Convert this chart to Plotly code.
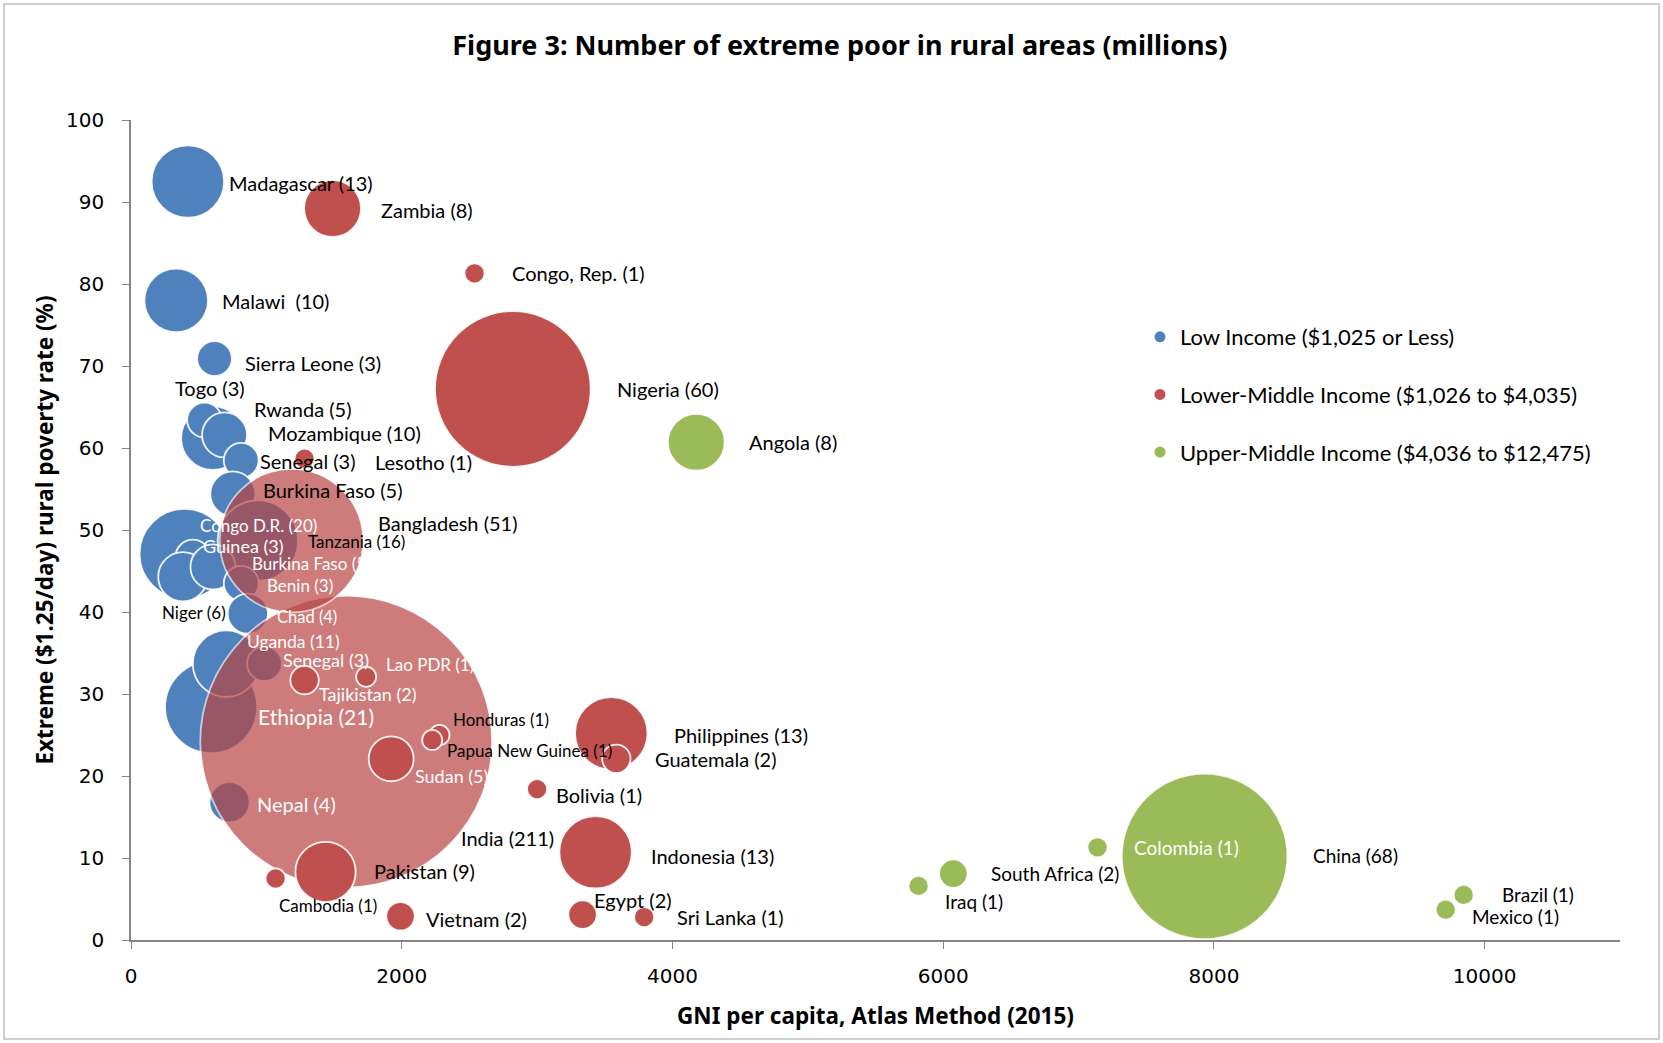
import plotly.graph_objects as go

# ---------------- data ----------------
# Low income
low_names = ["Madagascar", "Malawi ", "Sierra Leone", "Mozambique", "Togo", "Rwanda",
             "Senegal", "Burkina Faso", "Congo D.R.", "Tanzania", "Guinea", "Niger",
             "Burkina Faso", "Benin", "Chad", "Ethiopia", "Uganda", "Senegal", "Nepal"]
low_gni = [420, 334, 617, 605, 543, 691, 814, 752, 395, 937, 457, 383, 605, 814, 863, 592, 703, 986, 728]
low_rate = [92.5, 78.0, 70.9, 61.2, 63.4, 61.6, 58.5, 54.4, 47.1, 48.7, 46.7, 44.3, 45.5, 43.5, 39.8, 28.4, 33.7, 33.7, 16.8]
low_poor = [13, 10, 3, 10, 3, 5, 3, 5, 20, 16, 3, 6, 5, 3, 4, 21, 11, 3, 4]

# Lower-middle income
lm_names = ["India", "Bangladesh", "Zambia", "Congo, Rep.", "Nigeria", "Lesotho", "Tajikistan",
            "Lao PDR", "Honduras", "Papua New Guinea", "Sudan", "Philippines", "Guatemala",
            "Bolivia", "Indonesia", "Pakistan", "Cambodia", "Vietnam", "Egypt", "Sri Lanka"]
lm_gni = [1590, 1186, 1489, 2538, 2821, 1282, 1282, 1737, 2279, 2225, 1922, 3548, 3585, 3000, 3432, 1437, 1068, 1991, 3336, 3791]
lm_rate = [24.2, 48.7, 89.2, 81.3, 67.2, 58.7, 31.7, 32.1, 25.0, 24.4, 22.1, 25.2, 22.1, 18.4, 10.7, 8.3, 7.5, 2.9, 3.1, 2.8]
lm_poor = [211, 51, 8, 1, 60, 1, 2, 1, 1, 1, 5, 13, 2, 1, 13, 9, 1, 2, 2, 1]

# Upper-middle income
um_names = ["Angola", "China", "Colombia", "South Africa", "Iraq", "Brazil", "Mexico"]
um_gni = [4176, 7931, 7140, 6075, 5818, 9845, 9712]
um_rate = [60.7, 10.2, 11.3, 8.1, 6.6, 5.5, 3.7]
um_poor = [8, 68, 1, 2, 1, 1, 1]

group_names = ["Low Income ($1,025 or Less)",
               "Lower-Middle Income ($1,026 to $4,035)",
               "Upper-Middle Income ($4,036 to $12,475)"]

x_ticks = [0, 2000, 4000, 6000, 8000, 10000]
y_ticks = [0, 10, 20, 30, 40, 50, 60, 70, 80, 90, 100]

# ---------------- label styling (pixel offsets from bubble centre, colour, size) ----------------
low_lab = [(39, -1, "k", 20), (44, -1, "k", 20), (28, -4, "k", 20), (53, 5, "k", 20),
           (-32, 32, "k", 20), (27, 26, "k", 20), (17, -1, "k", 20), (28, 4, "k", 20),
           (14, 28, "w", 17), (48, -1, "k", 17), (8, 11, "w", 18), (-23, -36, "k", 17),
           (37, 3, "w", 17), (24, -2, "w", 17), (27, -3, "w", 16.5), (45, -9, "w", 21),
           (19, 22, "w", 17.5), (17, 4, "w", 18), (25, -2, "w", 20)]
lm_lab = [(113, -96, "k", 20), (84, 18, "k", 20), (46, -1, "k", 20), (35, 0, "k", 20),
          (102, 0, "k", 20), (68, -3, "k", 20), (12, -14, "w", 18), (18, 12, "w", 17),
          (12, 16, "k", 17), (13, -11, "k", 17), (22, -17, "w", 18), (61, -2, "k", 20),
          (37, 0, "k", 20), (17, -6, "k", 20), (53, -4, "k", 20), (46, 1, "k", 20),
          (1, -27, "k", 17), (23, -3, "k", 20), (9, 15, "k", 20), (31, 0, "k", 20)]
um_lab = [(51, 0, "k", 20), (106, 1, "k", 19), (34, 0, "w", 19), (36, 0, "k", 19),
          (24, -16, "k", 19), (36, 0, "k", 19), (24, -7, "k", 19)]

BLUE = "#4F81BD"
RED = "#C0504D"
BIG_RED = "#B84644"
GREEN = "#9BBB59"
FONT = "Lato"
BOLD_FONT = "Noto Sans"
SIZEREF = 2.0 / 20.1 ** 2

fig = go.Figure()

groups = [
    (low_names, low_gni, low_rate, low_poor, [BLUE] * len(low_names), [1.0] * len(low_names), low_lab),
    (lm_names, lm_gni, lm_rate, lm_poor, [BIG_RED, BIG_RED] + [RED] * (len(lm_names) - 2),
     [0.7, 0.7] + [1.0] * (len(lm_names) - 2), lm_lab),
    (um_names, um_gni, um_rate, um_poor, [GREEN] * len(um_names), [1.0] * len(um_names), um_lab),
]

annotations = []
for gi, (names, gni, rate, poor, color, opac, labs) in enumerate(groups):
    texts = [f"{n} ({p})" for n, p in zip(names, poor)]
    fig.add_trace(go.Scatter(
        x=gni, y=rate, mode="markers",
        marker=dict(size=poor, sizemode="area", sizeref=SIZEREF, color=color,
                    opacity=opac, line=dict(color="rgba(255,255,255,0.9)", width=1.8)),
        text=texts, hoverinfo="text", showlegend=False, name=group_names[gi],
    ))
    for xv, yv, t, (dx, dy, c, fs) in zip(gni, rate, texts, labs):
        annotations.append(dict(
            x=xv, y=yv, xref="x", yref="y", text=t, showarrow=False,
            xanchor="left", yanchor="middle", xshift=dx, yshift=dy,
            font=dict(family=FONT, size=fs, color="white" if c == "w" else "black"),
        ))

# legend entries
for gi, color in enumerate([BLUE, RED, GREEN]):
    fig.add_trace(go.Scatter(
        x=[None], y=[None], mode="markers",
        marker=dict(size=11, color=color),
        name=group_names[gi], legendgroup=f"g{gi}", showlegend=True,
    ))

L, R, T, B = 131, 43, 120, 103
W, H = 1663, 1043
pw, ph = W - L - R, H - T - B

shapes = [dict(type="rect", xref="paper", yref="paper",
               x0=(4 - L) / pw, x1=(W - 4 - L) / pw,
               y0=(ph - (H - 4 - T)) / ph, y1=(ph - (4 - T)) / ph,
               line=dict(color="#BFBFBF", width=1.5), fillcolor="rgba(0,0,0,0)", layer="below")]

fig.update_layout(
    width=W, height=H,
    margin=dict(l=L, r=R, t=T, b=B),
    paper_bgcolor="white", plot_bgcolor="white",
    title=dict(text="<b>Figure 3: Number of extreme poor in rural areas (millions)</b>",
               x=0.505, xref="container", xanchor="center",
               y=1 - 46 / H, yref="container", yanchor="middle",
               font=dict(family=BOLD_FONT, size=27, color="black")),
    xaxis=dict(range=[0, 11000], tickvals=x_ticks, ticktext=[str(v) for v in x_ticks],
               ticks="outside", ticklen=7, tickwidth=1.3, tickcolor="#868686",
               showline=True, linecolor="#868686", linewidth=1.5,
               showgrid=False, zeroline=False, ticklabelstandoff=10,
               tickfont=dict(family="DejaVu Sans", size=20, color="black"),
               title=dict(text="<b>GNI per capita, Atlas Method (2015)</b>", standoff=21,
                          font=dict(family=BOLD_FONT, size=22.5, color="black"))),
    yaxis=dict(range=[0, 100], tickvals=y_ticks,
               ticks="outside", ticklen=7, tickwidth=1.3, tickcolor="#868686",
               showline=True, linecolor="#868686", linewidth=1.5,
               showgrid=False, zeroline=False, ticklabelstandoff=14,
               tickfont=dict(family="DejaVu Sans", size=20, color="black"),
               title=dict(text="<b>Extreme ($1.25/day) rural poverty rate (%)</b>", standoff=6,
                          font=dict(family=BOLD_FONT, size=22.5, color="black"))),
    legend=dict(x=(1140 - L) / pw, y=(ph - (316 - T)) / ph, xanchor="left", yanchor="top",
                font=dict(family=FONT, size=22, color="black"),
                tracegroupgap=26, bgcolor="rgba(0,0,0,0)", itemwidth=30),
    annotations=annotations,
    shapes=shapes,
    hovermode="closest",
)

fig.write_html("out.html")
